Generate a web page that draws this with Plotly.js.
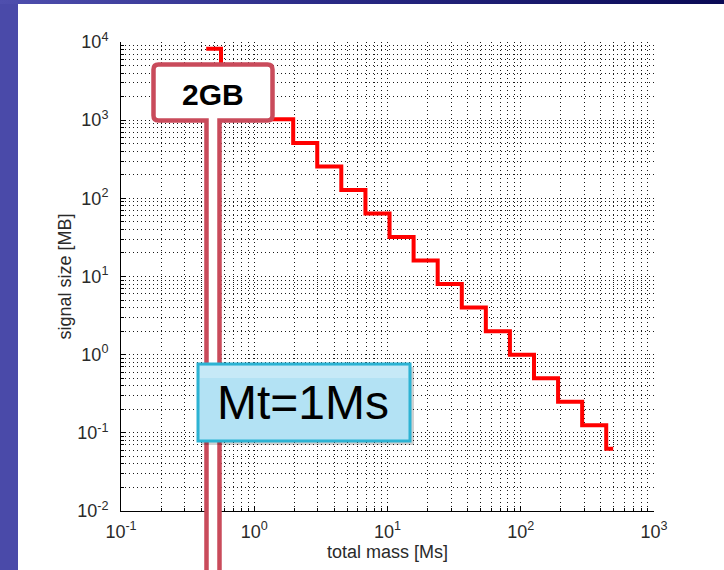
<!DOCTYPE html>
<html>
<head>
<meta charset="utf-8">
<script src="https://cdn.plot.ly/plotly-3.0.1.min.js"></script>
<style>
  html, body { margin: 0; padding: 0; background: #ffffff; }
  #wrap { position: relative; width: 724px; height: 570px; overflow: hidden; background: #ffffff; }
  #chart { position: absolute; left: 0; top: 0; width: 724px; height: 570px; }
  #leftStrip { position: absolute; left: 0; top: 0; width: 18px; height: 570px; background: #4a4aa9; pointer-events: none; }
  #topStrip { position: absolute; left: 0; top: 0; width: 724px; height: 4px; pointer-events: none;
    background: linear-gradient(to right, #4f4fae 0%, #2a2a86 45%, #0a0a55 100%); }
</style>
</head>
<body>
<div id="wrap">
  <div id="chart"></div>
  <div id="leftStrip"></div>
  <div id="topStrip"></div>
</div>
<script>
// ---- data ----
// total mass [Ms] at which each step of the signal size starts (last value = end of line)
var totalMass = [0.436, 0.563, 0.853, 1.293, 1.96, 2.97, 4.50, 6.83, 10.36, 15.7, 23.8, 36.1, 54.7, 82.9, 125.7, 190.6, 289, 438, 494];
// signal size [MB] for each step
var signalSize = [8192, 4096, 2048, 1024, 512, 256, 128, 64, 32, 16, 8, 4, 2, 1, 0.5, 0.25, 0.125, 0.0625, 0.0625];

var xTickVals = [0.1, 1, 10, 100, 1000];
var xTickText = ['10<sup>-1</sup>', '10<sup>0</sup>', '10<sup>1</sup>', '10<sup>2</sup>', '10<sup>3</sup>'];
var yTickVals = [0.01, 0.1, 1, 10, 100, 1000, 10000];
var yTickText = ['10<sup>-2</sup>', '10<sup>-1</sup>', '10<sup>0</sup>', '10<sup>1</sup>', '10<sup>2</sup>', '10<sup>3</sup>', '10<sup>4</sup>'];

var callout1Text = '<b>2GB</b>';
var callout2Text = 'Mt=1Ms';

// ---- layout geometry (pixels of the 724x570 page) ----
var L = 121, R = 654, T = 42, B = 511;
function px(x) { return (x - L) / (R - L); }
function py(y) { return (B - y) / (B - T); }
function P(x, y) { return px(x).toFixed(5) + ',' + py(y).toFixed(5); }

// 2GB rounded box with a long tail going down
var bx0 = 153.5, bx1 = 272.5, by0 = 64.5, by1 = 120.5, r = 5;
var tx0 = 206.5, tx1 = 219.5, tyEnd = 600;
var calloutPath =
  'M' + P(tx0, by1) +
  ' L' + P(bx0 + r, by1) +
  ' Q' + P(bx0, by1) + ' ' + P(bx0, by1 - r) +
  ' L' + P(bx0, by0 + r) +
  ' Q' + P(bx0, by0) + ' ' + P(bx0 + r, by0) +
  ' L' + P(bx1 - r, by0) +
  ' Q' + P(bx1, by0) + ' ' + P(bx1, by0 + r) +
  ' L' + P(bx1, by1 - r) +
  ' Q' + P(bx1, by1) + ' ' + P(bx1 - r, by1) +
  ' L' + P(tx1, by1) +
  ' L' + P(tx1, tyEnd) +
  ' L' + P(tx0, tyEnd) + ' Z';

var mx0 = 198, mx1 = 410, my0 = 364, my1 = 441;

var gridDash = '1px,3px';
var gridCol = '#1a1a1a';

var trace = {
  x: totalMass,
  y: signalSize,
  type: 'scatter',
  mode: 'lines',
  line: { shape: 'hv', color: '#ff0000', width: 4 },
  hoverinfo: 'x+y',
  showlegend: false
};

var axisFont = { family: 'Liberation Sans, Arial, sans-serif', size: 18, color: '#2a2a2a' };
var titleFont = { family: 'Liberation Sans, Arial, sans-serif', size: 18, color: '#2a2a2a' };

function minorCfg() {
  return {
    dtick: 'D1',
    ticks: 'inside',
    ticklen: 3,
    tickcolor: '#000000',
    showgrid: true,
    gridcolor: gridCol,
    gridwidth: 1,
    griddash: gridDash
  };
}

var layout = {
  width: 724,
  height: 570,
  margin: { l: L, r: 724 - R, t: T, b: 570 - B, pad: 0 },
  paper_bgcolor: '#ffffff',
  plot_bgcolor: '#ffffff',
  showlegend: false,
  xaxis: {
    type: 'log',
    range: [-1, 3],
    tickmode: 'array',
    tickvals: xTickVals,
    ticktext: xTickText,
    ticks: 'inside',
    ticklen: 5,
    tickcolor: '#000000',
    tickfont: axisFont,
    ticklabelstandoff: 4,
    showline: true,
    linecolor: '#000000',
    linewidth: 1,
    mirror: false,
    showgrid: true,
    gridcolor: gridCol,
    gridwidth: 1,
    griddash: gridDash,
    zeroline: false,
    minor: minorCfg(),
    title: { text: 'total mass [Ms]', font: titleFont, standoff: 2 }
  },
  yaxis: {
    type: 'log',
    range: [-2, 4],
    tickmode: 'array',
    tickvals: yTickVals,
    ticktext: yTickText,
    ticks: 'inside',
    ticklen: 5,
    tickcolor: '#000000',
    tickfont: axisFont,
    ticklabelstandoff: 8,
    showline: true,
    linecolor: '#000000',
    linewidth: 1,
    mirror: false,
    showgrid: true,
    gridcolor: gridCol,
    gridwidth: 1,
    griddash: gridDash,
    zeroline: false,
    minor: minorCfg(),
    title: { text: 'signal size [MB]', font: titleFont, standoff: 0 }
  },
  shapes: [
    {
      type: 'path', xref: 'paper', yref: 'paper', layer: 'above',
      path: calloutPath,
      fillcolor: '#ffffff',
      line: { color: '#c94b5b', width: 4.5 }
    },
    {
      type: 'rect', xref: 'paper', yref: 'paper', layer: 'above',
      x0: px(mx0 + 3), x1: px(mx1 + 4), y0: py(my1 + 4), y1: py(my0 + 3),
      fillcolor: 'rgba(0,0,0,0.18)', line: { width: 0 }
    },
    {
      type: 'rect', xref: 'paper', yref: 'paper', layer: 'above',
      x0: px(mx0), x1: px(mx1), y0: py(my1), y1: py(my0),
      fillcolor: '#b3e2f4',
      line: { color: '#2db3d3', width: 3 }
    },
    {
      type: 'rect', xref: 'paper', yref: 'paper', layer: 'above',
      x0: px(mx0 + 2), x1: px(mx1 - 2), y0: py(my0 + 14), y1: py(my0 + 2),
      fillcolor: 'rgba(255,255,255,0.25)', line: { width: 0 }
    }
  ],
  annotations: [
    {
      xref: 'paper', yref: 'paper', x: px(213), y: py(94),
      xanchor: 'center', yanchor: 'middle', showarrow: false,
      text: callout1Text,
      font: { family: 'Liberation Sans, Arial, sans-serif', size: 30, color: '#000000' }
    },
    {
      xref: 'paper', yref: 'paper', x: px(303), y: py(402),
      xanchor: 'center', yanchor: 'middle', showarrow: false,
      text: callout2Text,
      font: { family: 'Liberation Sans, Arial, sans-serif', size: 48, color: '#000000' }
    }
  ]
};

Plotly.newPlot('chart', [trace], layout, { displayModeBar: false, staticPlot: true });
</script>
</body>
</html>
